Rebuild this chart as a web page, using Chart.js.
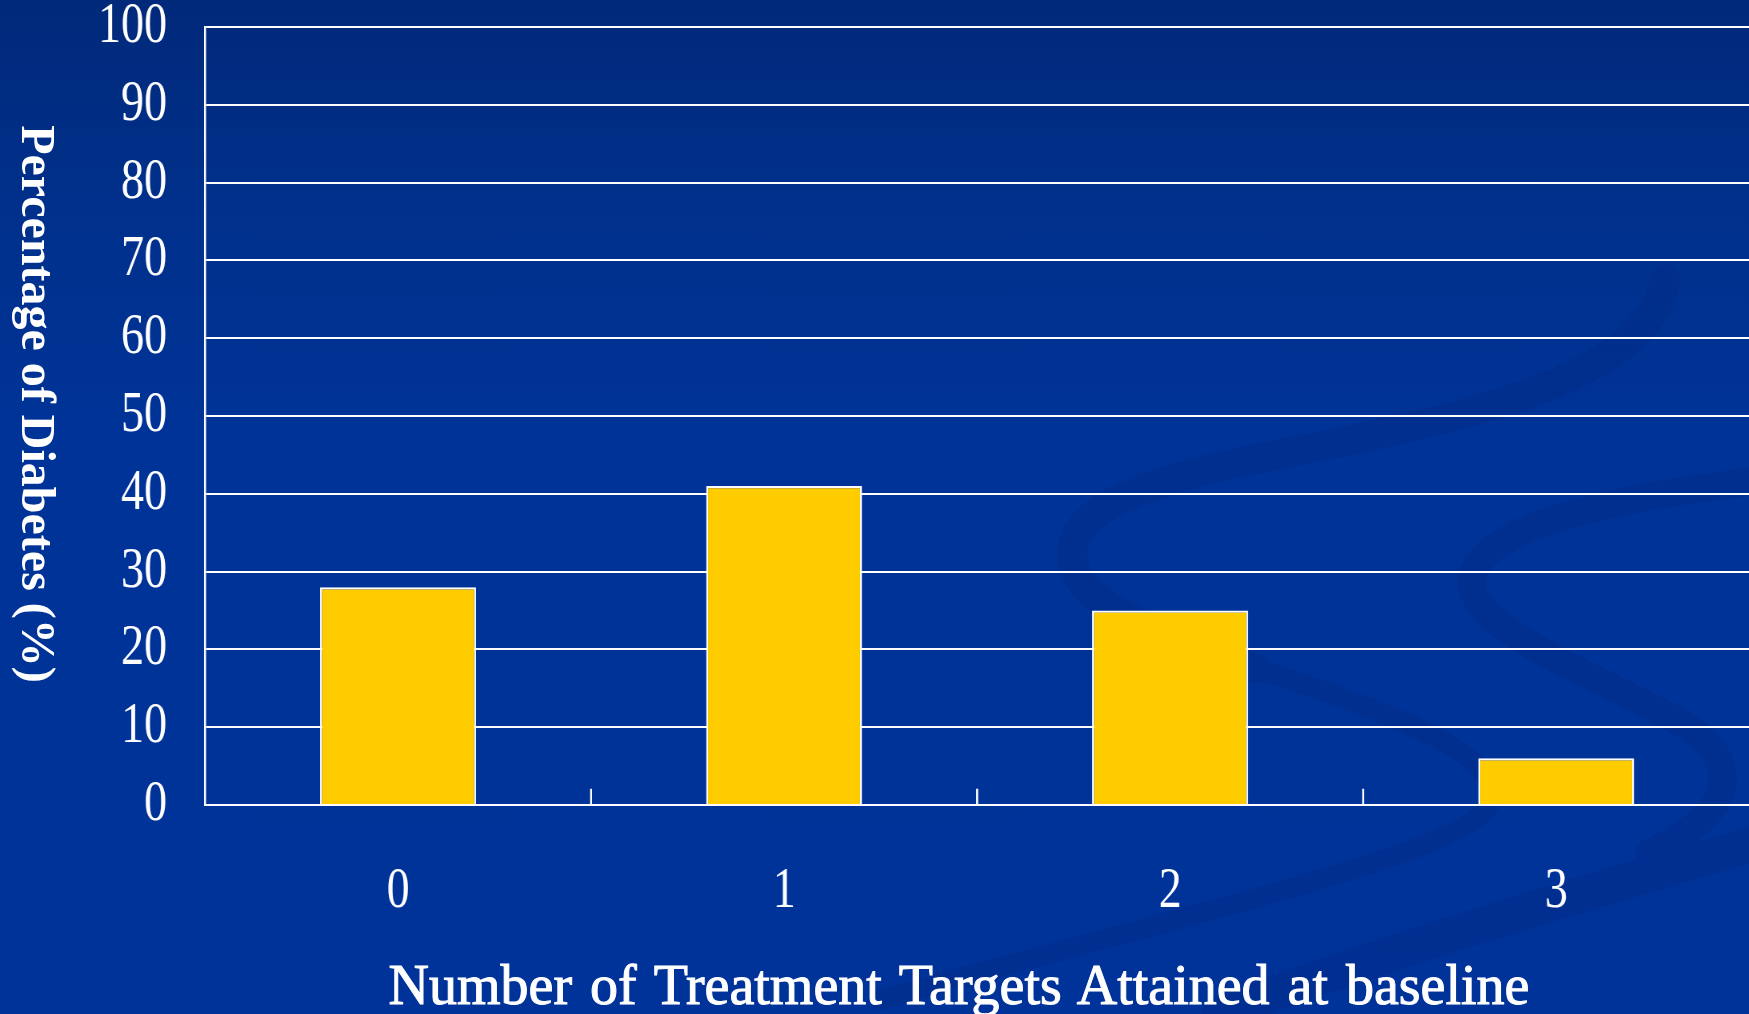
<!DOCTYPE html>
<html>
<head>
<meta charset="utf-8">
<script src="https://cdn.jsdelivr.net/npm/chart.js@4/dist/chart.umd.min.js"></script>
<style>
  html, body { margin: 0; padding: 0; width: 1749px; height: 1014px; overflow: hidden; }
  body {
    position: relative;
    background: linear-gradient(to bottom, #01297a 0%, #00308b 20%, #003397 42%, #003399 100%);
    font-family: "Liberation Serif", "Times New Roman", serif;
  }
  #swoosh { position: absolute; left: 0; top: 0; width: 1749px; height: 1014px; }
  /* the plot and its tick labels are drawn in a shorter box and stretched vertically */
  #stage {
    position: absolute; left: 0; top: 0;
    width: 1749px; height: 840px;
    transform: scaleY(1.25); transform-origin: 0 0;
  }
  .axis-title {
    position: absolute;
    color: #ffffff;
    white-space: nowrap;
    font-family: "Liberation Serif", serif;
  }
  #ytitle {
    left: 14px; top: 404px;
    transform: translateY(-50%);
    writing-mode: vertical-rl;
    font-size: 48px; font-weight: bold;
    line-height: 48px;
  }
  #xtitle {
    left: 959px; top: 957px;
    transform: translateX(-50%);
    font-size: 56px; font-weight: normal;
    line-height: 56px;
    word-spacing: 4px;
    -webkit-text-stroke: 1px #ffffff;
  }
</style>
</head>
<body>
<svg id="swoosh" viewBox="0 0 1749 1014" preserveAspectRatio="none">
  <g fill="none" stroke="#00287f" stroke-linecap="round" opacity="0.3">
    <path d="M1665 280 C 1650 380, 1460 420, 1260 458 C 1090 492, 1060 530, 1076 572 C 1092 612, 1180 640, 1255 668" stroke-width="30"/>
    <path d="M1255 668 C 1400 715, 1500 755, 1492 800 C 1478 850, 1220 905, 880 1000" stroke-width="20"/>
    <path d="M1749 482 C 1600 500, 1482 528, 1472 578 C 1465 630, 1600 676, 1690 728 C 1760 780, 1705 828, 1650 852" stroke-width="28"/>
    <path d="M1749 845 C 1560 900, 1360 960, 1220 1014" stroke-width="36"/>
  </g>
</svg>
<div id="stage"><canvas id="chart"></canvas></div>
<div id="ytitle" class="axis-title"></div>
<div id="xtitle" class="axis-title"></div>

<script>
// Share of participants with diabetes by number of treatment targets met at baseline
const categories = ['0', '1', '2', '3'];
const diabetesPct = [28, 41, 25, 6];
const yMin = 0;
const yMax = 100;
const yStep = 10;
const xAxisTitle = 'Number of Treatment Targets Attained at baseline';
const yAxisTitle = 'Percentage of Diabetes (%)';

document.getElementById('ytitle').textContent = yAxisTitle;
document.getElementById('xtitle').textContent = xAxisTitle;

const STRETCH = 1.25;          // vertical stretch applied to #stage
const STAGE_H = 840;           // layout height before stretching
const PLOT_LEFT = 205;
const PLOT_TOP = 27 / STRETCH;
const PLOT_BOTTOM = 805 / STRETCH;

// short upward ticks on the baseline between category groups
const categoryDividers = {
  id: 'categoryDividers',
  afterDatasetsDraw(chart) {
    const x = chart.scales.x;
    const area = chart.chartArea;
    const ctx = chart.ctx;
    ctx.save();
    ctx.strokeStyle = '#ffffff';
    ctx.lineWidth = 2;
    for (let i = 1; i < categories.length; i++) {
      const px = (x.getPixelForValue(i - 1) + x.getPixelForValue(i)) / 2;
      ctx.beginPath();
      ctx.moveTo(px, area.bottom);
      ctx.lineTo(px, area.bottom - 13);
      ctx.stroke();
    }
    ctx.restore();
  }
};

new Chart(document.getElementById('chart'), {
  type: 'bar',
  data: {
    labels: categories,
    datasets: [{
      data: diabetesPct,
      backgroundColor: '#ffcc00',
      borderColor: '#ffffff',
      borderWidth: { top: 1.8, left: 2, right: 2, bottom: 0 },
      borderSkipped: 'start',
      barPercentage: 0.404,
      categoryPercentage: 1.0
    }]
  },
  options: {
    responsive: true,
    maintainAspectRatio: false,
    devicePixelRatio: STRETCH,
    animation: false,
    events: [],
    layout: {
      autoPadding: false,
      padding: { top: PLOT_TOP, left: 0, right: 0, bottom: 0 }
    },
    plugins: {
      legend: { display: false },
      tooltip: { enabled: false }
    },
    scales: {
      x: {
        grid: { display: false, drawTicks: false },
        border: { display: true, color: '#ffffff', width: 1.6 },
        ticks: {
          color: '#ffffff',
          font: { family: '"Liberation Serif", serif', size: 46 },
          padding: 42
        },
        title: { display: false },
        afterFit(scale) {
          scale.height = STAGE_H - PLOT_BOTTOM;
          scale.paddingLeft = 0;
          scale.paddingRight = 0;
        }
      },
      y: {
        min: yMin,
        max: yMax,
        grid: { color: '#ffffff', lineWidth: 1.6, drawTicks: false },
        border: { display: true, color: '#ffffff', width: 2 },
        ticks: {
          stepSize: yStep,
          autoSkip: false,
          color: '#ffffff',
          font: { family: '"Liberation Serif", serif', size: 46 },
          padding: 38
        },
        afterFit(scale) {
          scale.width = PLOT_LEFT;
          scale.paddingTop = 0;
          scale.paddingBottom = 0;
        }
      }
    }
  },
  plugins: [categoryDividers]
});
</script>
</body>
</html>
